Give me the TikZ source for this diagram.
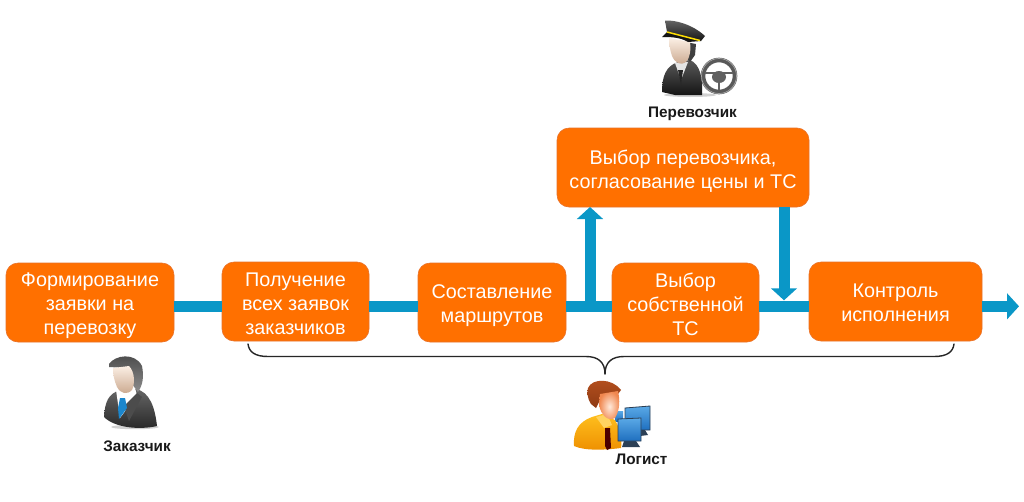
\documentclass[tikz,border=0pt]{standalone}
\usepackage{fontspec}
\setmainfont{Liberation Sans}
\usetikzlibrary{arrows.meta,calc}
\definecolor{boxor}{HTML}{FF7000}
\definecolor{boxedge}{HTML}{E8722A}
\definecolor{flow}{HTML}{0A97C7}
\definecolor{skinhi}{HTML}{FBEFE4}
\definecolor{skinlo}{HTML}{C9A68C}
\definecolor{hairred}{HTML}{B5501E}
\definecolor{hairdk}{HTML}{8E3A14}
\definecolor{lskinhi}{HTML}{FFE9DA}
\definecolor{lskinlo}{HTML}{F0874F}
\definecolor{shirthi}{HTML}{FFC01E}
\definecolor{shirtlo}{HTML}{EE8F00}
\definecolor{screenhi}{HTML}{5AA9E6}
\definecolor{screenlo}{HTML}{1F6FBF}
\definecolor{framedk}{HTML}{2B3F55}
\definecolor{tieblue}{HTML}{1B86CC}
\tikzset{
  stagebox/.style={draw=boxedge,line width=.6pt,fill=boxor,rounded corners=12pt,text=white,align=center,
    font=\fontsize{19.8}{24}\selectfont,inner sep=0pt,outer sep=0pt},
  rolelabel/.style={font=\fontsize{15.3}{17}\selectfont\bfseries,text=black!90,inner sep=0pt},
  flowbar/.style={draw=flow,line width=11pt},
  flowarrow/.style={flowbar,-{Triangle[width=25.5pt,length=12pt]}},
  bracket/.style={draw=black!85,line width=1.4pt,line cap=round},
}
\begin{document}
\begin{tikzpicture}[x=1pt,y=-1pt]
\useasboundingbox (0,0) rectangle (1024,501);
\fill[white] (0,0) rectangle (1024,501);
% stages
\node[stagebox,minimum width=168pt,minimum height=79pt] (a) at (90,302.5) {\rule{0pt}{19.5pt}Формирование\\заявки на\\перевозку};
\node[stagebox,minimum width=147pt,minimum height=79pt] (b) at (295.5,301.5) {\rule{0pt}{19pt}Получение\\всех заявок\\заказчиков};
\node[stagebox,minimum width=148pt,minimum height=79pt] (c) at (492,302.5) {\rule{0pt}{19.5pt}Составление\\маршрутов};
\node[stagebox,minimum width=147pt,minimum height=79pt] (d) at (685.5,302.5) {\rule{0pt}{19pt}Выбор\\собственной\\ТС};
\node[stagebox,minimum width=173pt,minimum height=79pt] (e) at (895.5,301.5) {\rule{0pt}{17pt}Контроль\\исполнения};
\node[stagebox,minimum width=252pt,minimum height=79pt] (f) at (683,167.5) {\rule{0pt}{22.5pt}Выбор перевозчика,\\согласование цены и ТС};
% flow
\coordinate (bar) at (0,306.3);
\coordinate (upj) at (590,306.3);
\coordinate (dnj) at (784,306.3);
\coordinate (endj) at (1019,306.3);
\draw[flowbar] (a.east |- bar) -- (b.west |- bar);
\draw[flowbar] (b.east |- bar) -- (c.west |- bar);
\draw[flowbar] (c.east |- bar) -- (d.west |- bar);
\draw[flowbar] (d.east |- bar) -- (e.west |- bar);
\draw[flowarrow] (e.east |- bar) -- (endj);
\draw[flowarrow] (upj) -- (upj |- f.south);
\draw[flowarrow] (dnj |- f.south) -- ($(dnj)+(0,-6)$);
% brace
\coordinate (brl) at (248,344);
\coordinate (brr) at (954,344);
\coordinate (brm) at (605,374);
\draw[bracket] (brl) .. controls (249,352) and (255,356.5) .. (268,356.5) -- (586,356.5)
   .. controls (598,356.5) and (605,362) .. (brm);
\draw[bracket] (brr) .. controls (953,352) and (947,356.5) .. (934,356.5) -- (624,356.5)
   .. controls (612,356.5) and (605,362) .. (brm);
% customer
\fill[black!18] (135,427) ellipse (24 and 2.2);
\shade[top color=black!60,bottom color=black!85] (104,417) .. controls (105,402) and (108,394) .. (120,390)
   -- (136,389) .. controls (150,392) and (155,408) .. (157,426) .. controls (140,430) and (115,428) .. (104,417) -- cycle;
\fill[white] (116,390) -- (135,388) -- (137,395) -- (120,418) -- cycle;
\fill[black!70] (124,406) -- (137,393) -- (142,397) -- (129,421) -- cycle;
\fill[tieblue] (120,398) -- (125,398) -- (127,408) -- (119,419) -- (118,408) -- cycle;
\shade[top color=black!72,bottom color=black!45] (109,364) .. controls (115,355) and (135,352) .. (142,366)
  .. controls (144,376) and (143,385) .. (138,392) -- (129,380) -- (127,368) -- (109,367) -- cycle;
\shade[top color=skinhi,bottom color=skinlo] (113,368) -- (129,366) .. controls (135,372) and (135,384) .. (132,390)
  .. controls (127,395) and (121,394) .. (117,387) .. controls (114,380) and (113,374) .. (113,368) -- cycle;
\node[rolelabel] (cust) at (137,446) {Заказчик};
% driver
\fill[black!18] (690,95) ellipse (26 and 2);
\shade[top color=black!65,bottom color=black!92] (662,92) .. controls (662,76) and (666,66) .. (678,62)
  -- (690,60) .. controls (700,64) and (703,78) .. (702,95) -- (675,95) -- cycle;
\fill[white!90!black] (675,63) -- (688,62) -- (681,80) -- cycle;
\fill[black!85] (678,70) -- (683,70) -- (681,85) -- cycle;
\fill[black!75] (686,42) -- (696,44) -- (695,55) -- (690,62) -- (686,58) -- cycle;
\shade[top color=skinhi,bottom color=skinlo] (669,38) -- (690,42) .. controls (691,50) and (690,58) .. (686,62)
  .. controls (681,66) and (675,63) .. (672,56) .. controls (670,50) and (669,44) .. (669,38) -- cycle;
\shade[top color=black!60,bottom color=black!92] (665,20.5) .. controls (675,20) and (692,24) .. (705,36) -- (701,41) -- (667,32) -- cycle;
\fill[black!92] (662,37) -- (667,32) -- (701,41) -- (688,42) .. controls (680,37) and (670,37) .. (662,37) -- cycle;
\draw[yellow!80!orange,line width=1.5pt] (667,32) -- (700,40.5);
\fill[white,fill opacity=.55] (719,76) circle (16);
\draw[black!65,line width=4.6pt] (719,76) circle (16);
\draw[black!35,line width=.7pt] (719,76) circle (17.5);
\fill[black!62] (719,77) ellipse (7 and 6);
\draw[black!62,line width=2.6pt] (705,73) -- (733,73) (719,79) -- (719,90);
\node[rolelabel] (drv) at (692.5,113.5) {Перевозчик};
% logist
\shade[top color=screenhi,bottom color=screenlo,draw=framedk,line width=.8pt] (625,408) -- (650,406) -- (650,430) -- (625,430) -- cycle;
\shade[top color=screenhi,bottom color=screenlo] (615,411) -- (623,411) -- (623,421) -- (615,421) -- cycle;
\fill[framedk] (638,430) -- (645,430) -- (648,435) -- (640,436) -- cycle;
\shade[top color=shirthi,bottom color=shirtlo] (574,446)
  .. controls (573,432) and (578,422) .. (592,417) -- (602,414) -- (615,420) .. controls (621,430) and (622,442) .. (621,448)
  .. controls (605,450) and (585,451) .. (574,446) -- cycle;
\fill[shirthi!70!white] (596,417) -- (604,428) -- (612,425) -- (607,414) -- cycle;
\fill[black!70!red] (605,428) -- (610,428) -- (611,448) -- (607,450) -- (605,446) -- cycle;
\fill[framedk] (624,441) -- (636,441) -- (640,447) -- (622,447) -- cycle;
\shade[top color=screenhi,bottom color=screenlo,draw=framedk,line width=.8pt] (618,419) -- (641,418) -- (641,441) -- (618,441) -- cycle;
\shade[top color=hairred,bottom color=hairdk] (588,388) .. controls (592,378) and (612,378) .. (621,390)
  -- (618,394) -- (602,396) -- (596,408) -- (591,404) .. controls (587,398) and (587,392) .. (588,388) -- cycle;
\shade[inner color=lskinhi,outer color=lskinlo] (600,394) -- (618,391) .. controls (620,400) and (620,410) .. (615,418)
  .. controls (608,422) and (601,415) .. (599,405) -- cycle;
\node[rolelabel] (log) at (641.5,459.5) {Логист};
\end{tikzpicture}
\end{document}
